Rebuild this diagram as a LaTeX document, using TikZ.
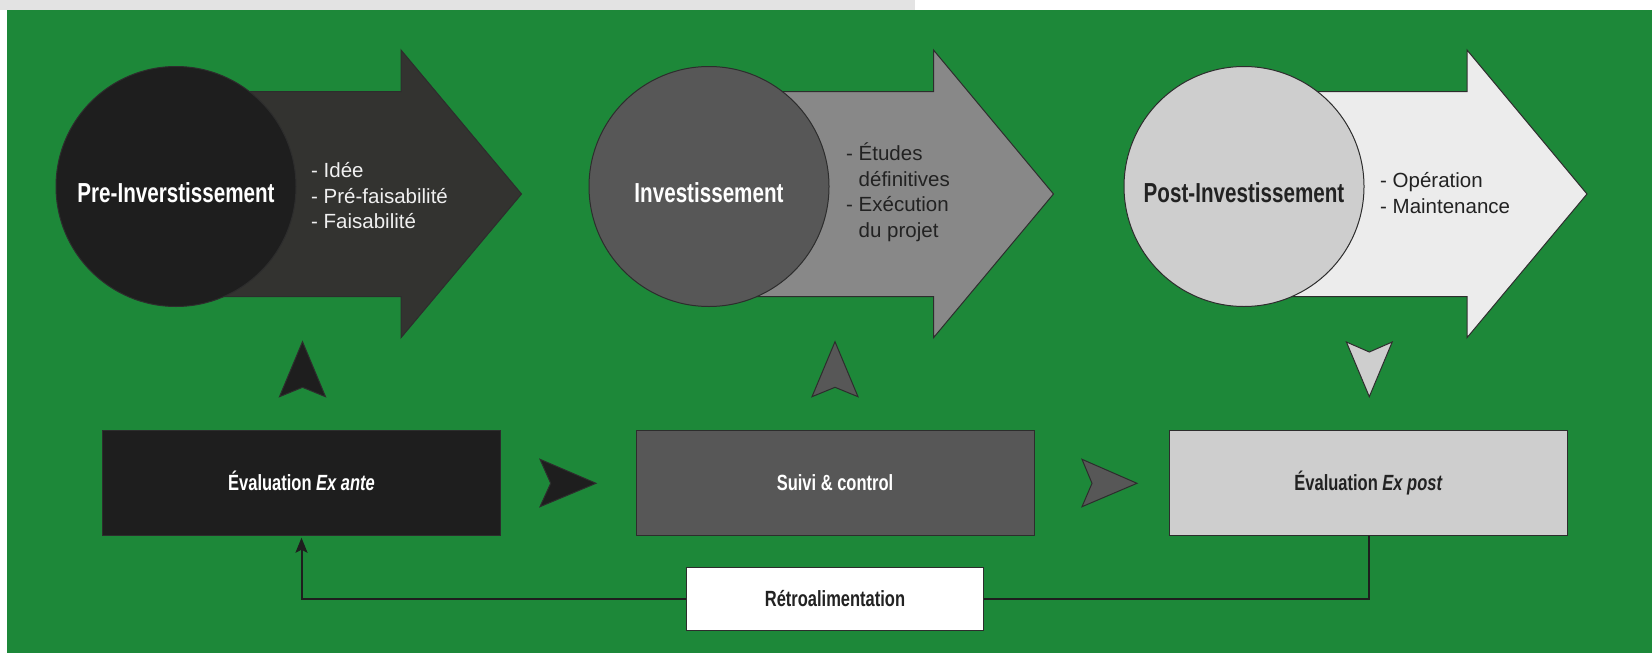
\documentclass[tikz,border=0pt]{standalone}
\usepackage{fontspec}
\setmainfont{Liberation Sans}
\newfontfamily\condfont[FakeStretch=0.75]{Liberation Sans}
\usetikzlibrary{arrows.meta}
\definecolor{bggreen}{RGB}{29,136,57}
\definecolor{bargray}{RGB}{227,227,227}
\definecolor{edge}{RGB}{45,45,45}
\definecolor{cA}{RGB}{30,30,30}
\definecolor{aA}{RGB}{51,51,48}
\definecolor{cB}{RGB}{87,87,87}
\definecolor{aB}{RGB}{136,136,136}
\definecolor{cC}{RGB}{206,206,206}
\definecolor{aC}{RGB}{236,236,236}
\definecolor{txtdark}{RGB}{34,34,34}
\definecolor{txtlight}{RGB}{240,240,240}
\definecolor{fbline}{RGB}{30,30,30}
\tikzset{
  bigarrow/.style={draw=edge, line width=1pt, line join=miter},
  circ/.style={circle, draw=edge, line width=1pt, minimum size=240pt, inner sep=0pt},
  ctitle/.style={font=\condfont\bfseries\fontsize{27.5}{33}\selectfont},
  lst/.style={anchor=west, align=left, inner sep=0pt, font=\fontsize{20.5}{25.5}\selectfont},
  box/.style={rectangle, draw=edge, line width=1pt, minimum width=398pt, minimum height=105.7pt,
    text height=16pt, text depth=0pt, font=\condfont\bfseries\fontsize{22}{26}\selectfont},
  dart/.style={draw=edge, line width=1pt, line join=miter},
  fb/.style={draw=fbline, line width=2pt}
}
\begin{document}
\begin{tikzpicture}[x=1pt,y=-1pt]
\useasboundingbox (0,0) rectangle (1652,653);
\fill[white] (0,0) rectangle (1652,653);
\fill[bargray] (0,0) rectangle (915,9.5);
\fill[bggreen] (6.5,9.5) rectangle (1652,653);

% phase 1
\draw[bigarrow, fill=aA] (176,91.7) -- (401,91.7) -- (401,50) -- (521.5,194) -- (401,337.7) -- (401,296.7) -- (176,296.7) -- cycle;
\node[circ, fill=cA] (pre) at (176,186.5) {};
\node[ctitle, text=white] (preT) at (176,193) {Pre-Inverstissement};
\node[lst, text=txtlight] (preL) at (311,196) {- Idée\\- Pré-faisabilité\\- Faisabilité};

% phase 2
\draw[bigarrow, fill=aB] (709,91.7) -- (933.5,91.7) -- (933.5,50) -- (1053.5,194) -- (933.5,337.7) -- (933.5,296.7) -- (709,296.7) -- cycle;
\node[circ, fill=cB] (inv) at (709,186.5) {};
\node[ctitle, text=white] (invT) at (709,193) {Investissement};
\node[lst, text=txtdark] (invL) at (846,192) {- Études\\\phantom{- }définitives\\- Exécution\\\phantom{- }du projet};

% phase 3
\draw[bigarrow, fill=aC] (1244,91.7) -- (1467,91.7) -- (1467,50) -- (1587,194) -- (1467,337.7) -- (1467,296.7) -- (1244,296.7) -- cycle;
\node[circ, fill=cC] (post) at (1244,186.5) {};
\node[ctitle, text=txtdark] (postT) at (1244,193) {Post-Investissement};
\node[lst, text=txtdark] (postL) at (1380,193) {- Opération\\- Maintenance};

% darts between rows
\draw[dart, fill=cA] (302.5,341.7) -- (325.5,396.7) -- (302.5,387.3) -- (279.5,396.7) -- cycle;
\draw[dart, fill=cB] (835,341.7) -- (858,396.7) -- (835,387.3) -- (812,396.7) -- cycle;
\draw[dart, fill=cC] (1346.4,342) -- (1369.3,352) -- (1392.2,342) -- (1369.3,396.7) -- cycle;

% boxes
\node[box, fill=cA, text=white] (exante) at (301.5,482.85) {Évaluation \textit{Ex ante}};
\node[box, fill=cB, text=white] (suivi) at (835,482.85) {Suivi \& control};
\node[box, fill=cC, text=txtdark] (expost) at (1368.5,482.85) {Évaluation \textit{Ex post}};

% darts between boxes
\draw[dart, fill=cA] (540,459.3) -- (596,483.3) -- (540,506.7) -- (550.7,483.3) -- cycle;
\draw[dart, fill=cB] (1082,459.3) -- (1137,483.3) -- (1082,506.7) -- (1092,483.3) -- cycle;

% feedback
\node[box, fill=white, text=txtdark, minimum width=296.4pt, minimum height=62.3pt] (retro) at (835,598.9) {Rétroalimentation};
\draw[fb] (expost.south) |- (retro.east);
\draw[fb, -{Stealth[length=15pt,width=12pt,inset=3pt]}, shorten >=1.5pt] (retro.west) -| (exante.south);
\end{tikzpicture}
\end{document}
